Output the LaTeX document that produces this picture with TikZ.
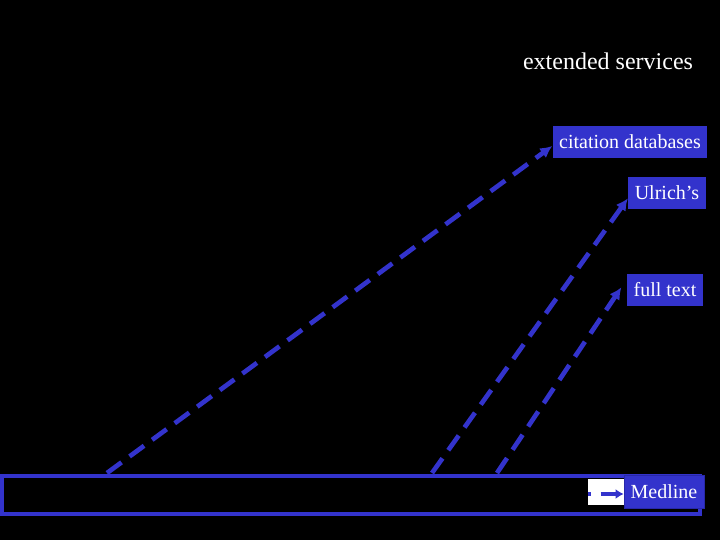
\documentclass[tikz,border=0pt]{standalone}
\usepackage{fontspec}
\setmainfont{Liberation Serif}
\usetikzlibrary{arrows.meta}
\definecolor{slideblue}{RGB}{51,51,204}
\definecolor{slideedge}{RGB}{40,40,170}

\begin{document}
\begin{tikzpicture}[x=0.75pt,y=0.75pt,yscale=-1,xscale=1,
  servbox/.style={fill=slideblue, text=white, font=\fontsize{15}{18}\selectfont,
                  inner xsep=5pt, minimum height=24pt},
  servlink/.style={draw=slideblue, line width=3.5pt, dash pattern=on 13.5pt off 7.5pt,
                   -{Latex[length=9pt,width=9pt]}}]
\useasboundingbox (0,0) rectangle (720,540);
\fill[black] (0,0) rectangle (720,540);

\node[text=white, font=\fontsize{18}{21}\selectfont] (title) at (608,61) {extended services};

\node[servbox] (cit) at (630,142) {citation databases};
\node[servbox] (ulr) at (667,193) {Ulrich’s};
\node[servbox] (ful) at (665,290) {full text};

% the search bar
\draw[slideblue, line width=3pt] (2,476) rectangle (700,514);
\node[fill=white, minimum width=27.75pt, minimum height=19.5pt, inner sep=0pt] (go) at (606.5,492) {};
\node[servbox, draw=slideedge, line width=0.6pt, minimum height=24.5pt] (med) at (664,492) {Medline};
\draw[draw=slideblue, line width=3.5pt, dash pattern=on 14pt off 7.5pt, dash phase=11.8pt,
      -{Latex[length=6pt,width=7.5pt]}] ([yshift=1.5pt]go.west) -- ([yshift=1.5pt]med.west);

\coordinate (s1) at (107,473);
\coordinate (s2) at (432,473);
\coordinate (s3) at (497,473);

\draw[servlink] (s1) -- ([yshift=3pt]cit.west);
\draw[servlink] (s2) -- ([yshift=4pt]ulr.west);
\draw[servlink] (s3) -- ([xshift=-4pt,yshift=-2pt]ful.west);

\end{tikzpicture}
\end{document}
